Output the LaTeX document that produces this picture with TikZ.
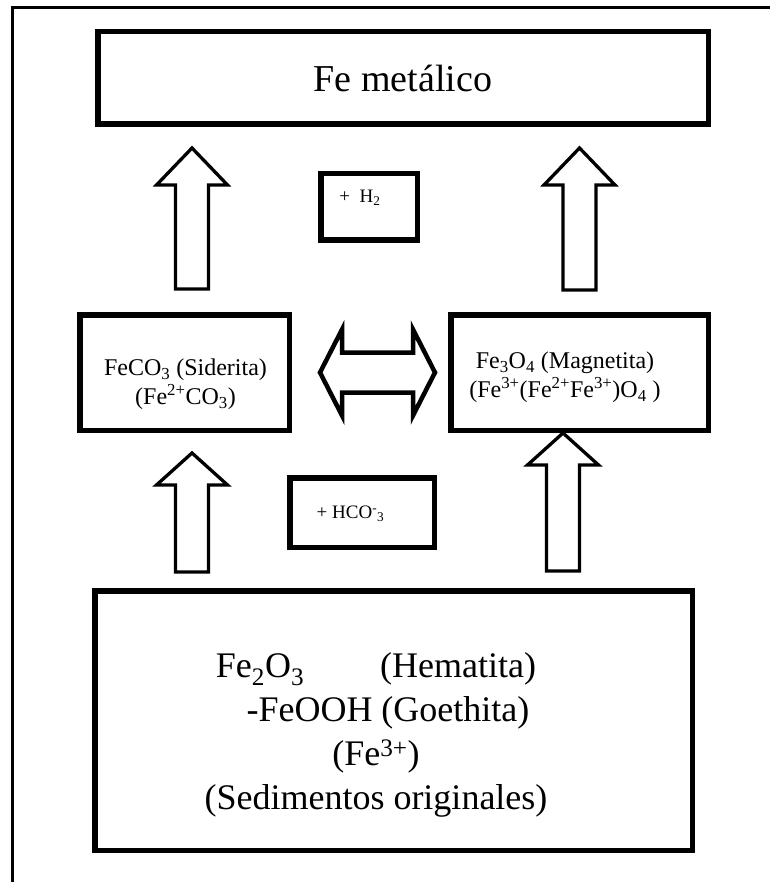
\documentclass[tikz,border=0pt]{standalone}
\usepackage{fontspec}
\setmainfont{Liberation Serif}
\usetikzlibrary{calc}

\tikzset{
  box/.style={draw, line width=5.5pt, inner sep=0pt},
  arrowline/.style={draw, line width=3.3pt, line join=miter},
  blockup/.style={to path={let \p1=(\tikztostart), \p2=(\tikztotarget) in
    (\x1-16.5pt,\y1) -- (\x1+16.5pt,\y1) -- (\x1+16.5pt,\y2-#1) -- (\x1+35.5pt,\y2-#1)
    -- (\x1,\y2) -- (\x1-35.5pt,\y2-#1) -- (\x1-16.5pt,\y2-#1) -- cycle}},
  blockup/.default=36pt,
  blockswap/.style={to path={let \p1=(\tikztostart), \p2=(\tikztotarget) in
    (\x1,\y1) -- (\x1+22pt,\y1+43pt) -- (\x1+22pt,\y1+20pt) -- (\x2-22pt,\y1+20pt)
    -- (\x2-22pt,\y1+43pt) -- (\x2,\y1) -- (\x2-22pt,\y1-43pt) -- (\x2-22pt,\y1-20pt)
    -- (\x1+22pt,\y1-20pt) -- (\x1+22pt,\y1-43pt) -- cycle}},
  bigtxt/.style={align=center, font=\fontsize{36}{44}\selectfont},
  midtxt/.style={align=center, font=\fontsize{24}{29}\selectfont},
  smalltxt/.style={font=\fontsize{19}{22}\selectfont}
}

\begin{document}
\begin{tikzpicture}[x=1pt, y=-1pt]
  \useasboundingbox (0,0) rectangle (770,882);
  % page frame
  \draw[line width=2.5pt] (12.5,882) -- (12.5,7.5) -- (770,7.5);

  % boxes
  \node[box, minimum width=610.5pt, minimum height=92.5pt,
    font=\fontsize{38}{44}\selectfont] (fe) at (403,78) {Fe metálico};
  \node[box, minimum width=96.5pt, minimum height=66.5pt] (hdos) at (369,207) {};
  \node[box, minimum width=209.5pt, minimum height=115.5pt] (sid) at (184.5,372.5) {};
  \node[box, minimum width=257.5pt, minimum height=115.5pt] (mag) at (579.5,372.5) {};
  \node[box, minimum width=144.5pt, minimum height=69.5pt] (hco) at (362,512.5) {};
  \node[box, minimum width=597.5pt, minimum height=259.5pt] (hem) at (393.5,720.5) {};

  % texts
  \node[smalltxt] (hdostxt) at ([xshift=-9pt,yshift=9pt]hdos.center) {+\ \ H\textsubscript{2}};
  \node[midtxt] (sidtxt) at ([xshift=1pt,yshift=-11.5pt]sid.center)
    {FeCO\textsubscript{3} (Siderita)\\(Fe\textsuperscript{2+}CO\textsubscript{3})};
  \node[midtxt] (magtxt) at ([xshift=-14.5pt,yshift=-4.5pt]mag.center)
    {Fe\textsubscript{3}O\textsubscript{4} (Magnetita)\\
     (Fe\textsuperscript{3+}(Fe\textsuperscript{2+}Fe\textsuperscript{3+})O\textsubscript{4} )};
  \node[smalltxt] (hcotxt) at ([xshift=-11.5pt,yshift=-1.5pt]hco.center)
    {+ HCO\textsuperscript{-}\textsubscript{3}};
  \node[bigtxt] (hemtxt) at ([xshift=-17.5pt,yshift=-14.5pt]hem.center)
    {Fe\textsubscript{2}O\textsubscript{3}\hspace{76pt}(Hematita)\\
     \hspace*{24pt}-FeOOH (Goethita)\\
     (Fe\textsuperscript{3+})\\
     (Sedimentos originales)};

  % block arrows
  \draw[arrowline, blockup=37pt] ($(sid.north)+(7.5,-23)$) to ($(fe.south)+(0,21)$);
  \draw[arrowline, blockup=37pt] ($(mag.north)+(0,-22)$) to ($(fe.south)+(0,21)$);
  \draw[arrowline, blockup=32pt] ($(sid.south)+(7.5,139)$) to ($(sid.south)+(7.5,20)$);
  \draw[arrowline, blockup=32pt] ($(mag.south)+(-16.5,138)$) to (mag.south);
  \draw[arrowline, line width=4.5pt, blockswap] ($(sid.east)+(28,0)$) to ($(mag.west)+(-13,0)$);
\end{tikzpicture}
\end{document}
